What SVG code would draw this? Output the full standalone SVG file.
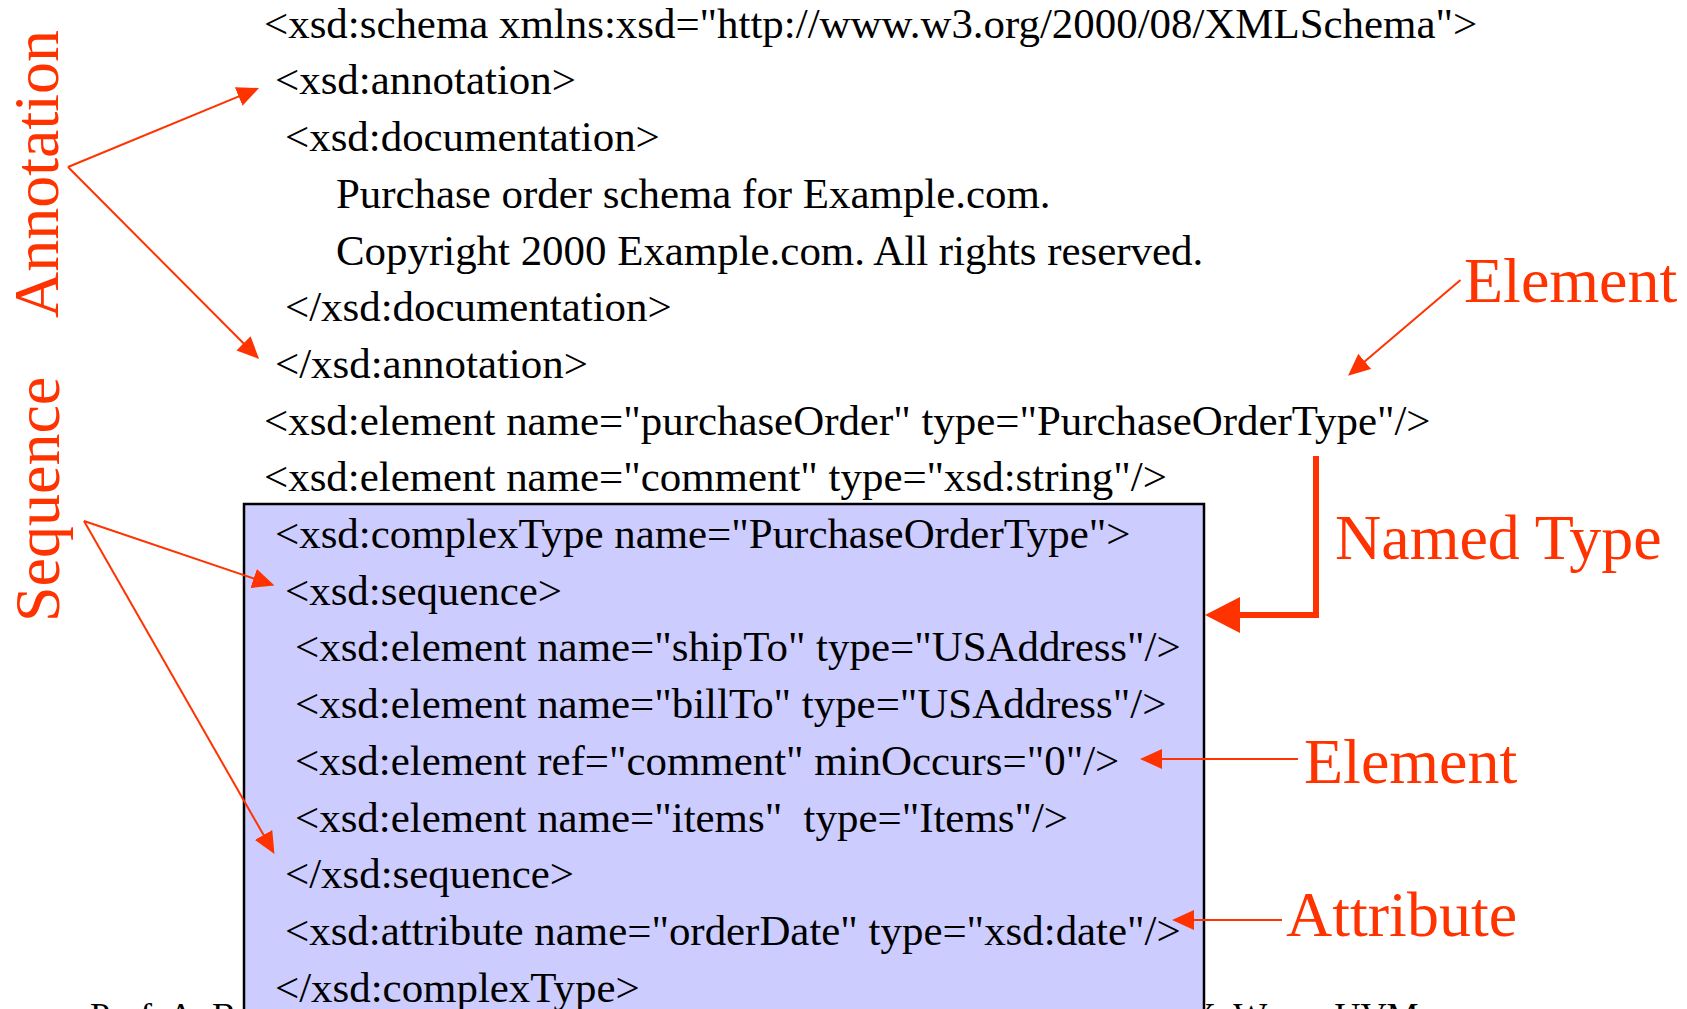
<svg xmlns="http://www.w3.org/2000/svg" width="1687" height="1009" viewBox="0 0 1687 1009">
  <style>
    .code { font-family: "Liberation Serif", "Times New Roman", serif; font-size: 42.9px; fill: #000; white-space: pre; }
    .lbl { font-family: "Liberation Serif", "Times New Roman", serif; font-size: 64px; fill: #FF3300; }
    .foot { font-family: "Liberation Serif", "Times New Roman", serif; font-size: 36px; fill: #000; }
    .thin { fill: none; stroke: #FF3300; stroke-width: 2; }
    .bold { fill: none; stroke: #FF3300; stroke-width: 6; }
  </style>
  <defs>
    <marker id="ah" markerUnits="userSpaceOnUse" markerWidth="22" markerHeight="20" viewBox="0 0 22 20" refX="14" refY="10" orient="auto">
      <path d="M0,0 L22,10 L0,20 z" fill="#FF3300"/>
    </marker>
    <marker id="ahBig" markerUnits="userSpaceOnUse" markerWidth="35" markerHeight="36" viewBox="0 0 35 36" refX="15" refY="18" orient="auto">
      <path d="M0,0 L35,18 L0,36 z" fill="#FF3300"/>
    </marker>
  </defs>

  <rect width="1687" height="1009" fill="#FFFFFF"/>

  <g id="footer">
    <text class="foot" x="90" y="1028">Prof. A. B</text>
    <text class="foot" x="1190" y="1028">X. Wang, UVM</text>
  </g>

  <g id="complexTypeBox">
    <rect x="244" y="504" width="960" height="520" fill="#CCCCFF" stroke="#000" stroke-width="2.5"/>
  </g>

  <g id="code">
    <text class="code" x="264" y="37.7">&lt;xsd:schema xmlns:xsd="http://www.w3.org/2000/08/XMLSchema"&gt;</text>
    <text class="code" x="275" y="94.4">&lt;xsd:annotation&gt;</text>
    <text class="code" x="285" y="151.1">&lt;xsd:documentation&gt;</text>
    <text class="code" x="336" y="207.8">Purchase order schema for Example.com.</text>
    <text class="code" x="336" y="264.5">Copyright 2000 Example.com. All rights reserved.</text>
    <text class="code" x="285" y="321.2">&lt;/xsd:documentation&gt;</text>
    <text class="code" x="275" y="377.9">&lt;/xsd:annotation&gt;</text>
    <text class="code" x="264" y="434.6">&lt;xsd:element name="purchaseOrder" type="PurchaseOrderType"/&gt;</text>
    <text class="code" x="264" y="491.3">&lt;xsd:element name="comment" type="xsd:string"/&gt;</text>
    <text class="code" x="275" y="548">&lt;xsd:complexType name="PurchaseOrderType"&gt;</text>
    <text class="code" x="285" y="604.7">&lt;xsd:sequence&gt;</text>
    <text class="code" x="295" y="661.4">&lt;xsd:element name="shipTo" type="USAddress"/&gt;</text>
    <text class="code" x="295" y="718.1">&lt;xsd:element name="billTo" type="USAddress"/&gt;</text>
    <text class="code" x="295" y="774.8">&lt;xsd:element ref="comment" minOccurs="0"/&gt;</text>
    <text class="code" x="295" y="831.5">&lt;xsd:element name="items"  type="Items"/&gt;</text>
    <text class="code" x="285" y="888.2">&lt;/xsd:sequence&gt;</text>
    <text class="code" x="285" y="944.9">&lt;xsd:attribute name="orderDate" type="xsd:date"/&gt;</text>
    <text class="code" x="275" y="1001.6">&lt;/xsd:complexType&gt;</text>
  </g>

  <g id="label-annotation">
    <text class="lbl" transform="translate(58,318) rotate(-90)">Annotation</text>
  </g>
  <g id="label-sequence">
    <text class="lbl" transform="translate(59,622) rotate(-90)">Sequence</text>
  </g>
  <g id="label-element-top">
    <text class="lbl" x="1464" y="302">Element</text>
  </g>
  <g id="label-named-type">
    <text class="lbl" x="1335" y="559">Named Type</text>
  </g>
  <g id="label-element-mid">
    <text class="lbl" x="1304" y="783">Element</text>
  </g>
  <g id="label-attribute">
    <text class="lbl" x="1286" y="936">Attribute</text>
  </g>

  <g id="connectors">
    <path class="thin" d="M68,167 L251.6,91.1" marker-end="url(#ah)"/>
    <path class="thin" d="M68,167 L253.4,353.3" marker-end="url(#ah)"/>
    <path class="thin" d="M84,521 L266.9,583" marker-end="url(#ah)"/>
    <path class="thin" d="M84,521 L270.5,847.1" marker-end="url(#ah)"/>
    <path class="thin" d="M1460.5,280 L1354.1,370.5" marker-end="url(#ah)"/>
    <path class="thin" d="M1298,759 L1148,759" marker-end="url(#ah)"/>
    <path class="thin" d="M1282,920 L1180,920" marker-end="url(#ah)"/>
    <path class="bold" d="M1316,456 L1316,615 L1225,615" marker-end="url(#ahBig)"/>
  </g>
</svg>
